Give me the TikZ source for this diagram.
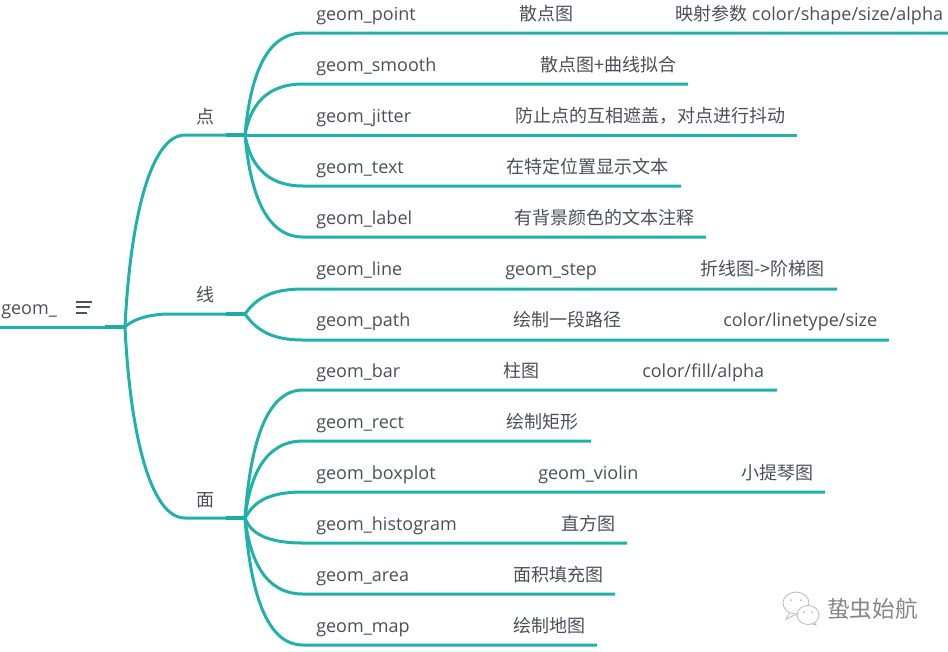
\documentclass[tikz,border=0pt]{standalone}
\usepackage{fontspec}
\setmainfont{Open Sans}
\newfontfamily\cjk{Noto Sans CJK SC}
\definecolor{branchteal}{HTML}{20B2AA}
\definecolor{labelgrey}{HTML}{4A4F59}
\begin{document}
\begin{tikzpicture}[
  x=0.75pt, y=-0.75pt,
  branch/.style={draw=branchteal, line width=2.25pt},
  stub/.style={draw=branchteal!96!black, line width=2.8pt},
  leaf/.style={anchor=base west, inner sep=0pt, text=labelgrey, font=\fontsize{13.5}{16}\selectfont},
  note/.style={anchor=base west, inner sep=0pt, text=labelgrey, font=\fontsize{13.5}{16}\selectfont\cjk},
  topic/.style={inner sep=0pt, text=labelgrey, font=\fontsize{13.5}{16}\selectfont\cjk},
  mark line/.style={draw=labelgrey, line width=0.9pt},
  bubble/.style={draw=gray!55, line width=0.6pt, fill=white},
]
  \useasboundingbox (0,0) rectangle (948,651);

  \coordinate (rootin) at (0,327);
  \coordinate (stem) at (105,327);
  \coordinate (hub) at (125,327);
  \coordinate (dianin) at (185,135);
  \coordinate (dianstub) at (226,135);
  \coordinate (dianout) at (245,135);
  \coordinate (xianin) at (170,314);
  \coordinate (xianstub) at (226,314);
  \coordinate (xianout) at (245,314);
  \coordinate (mianin) at (185,518);
  \coordinate (mianstub) at (226,518);
  \coordinate (mianout) at (245,518);

  \node[leaf] (root) at (1,314) {geom\_};
  \coordinate (marka) at (76,302);
  \coordinate (markb) at (92,302);
  \coordinate (markc) at (76,307);
  \coordinate (markd) at (90,307);
  \coordinate (marke) at (76,313);
  \coordinate (markf) at (87,313);
  \draw[mark line] (marka) -- (markb);
  \draw[mark line] (markc) -- (markd);
  \draw[mark line] (marke) -- (markf);

  \node[topic] (dian) at (205,116.5) {点};
  \node[topic] (xian) at (205,295) {线};
  \node[topic] (mian) at (205,500) {面};

  % first level
  \draw[branch] (rootin) -- (hub);
  \draw[stub] (stem) -- (hub);
  \draw[branch] (hub) .. controls +(5,-105) and +(-35,0) .. (dianin) -- (dianout);
  \draw[branch] (hub) .. controls +(8,-8) and +(-20,0) .. (xianin) -- (xianout);
  \draw[branch] (hub) .. controls +(5,105) and +(-35,0) .. (mianin) -- (mianout);
  \draw[stub] (dianstub) -- (dianout);
  \draw[stub] (xianstub) -- (xianout);
  \draw[stub] (mianstub) -- (mianout);

  % rows of the first group
  \coordinate (pointa) at (303,33);
  \coordinate (pointb) at (948,33);
  \coordinate (smootha) at (303,84);
  \coordinate (smoothb) at (688,84);
  \coordinate (jittera) at (303,135);
  \coordinate (jitterb) at (797,135);
  \coordinate (texta) at (303,186);
  \coordinate (textb) at (681,186);
  \coordinate (labela) at (303,237);
  \coordinate (labelb) at (706,237);
  \draw[branch] (dianout) .. controls +(5,-56) and +(-38,0) .. (pointa) -- (pointb);
  \draw[branch] (dianout) .. controls +(5,-28) and +(-38,0) .. (smootha) -- (smoothb);
  \draw[branch] (dianout) -- (jittera) -- (jitterb);
  \draw[branch] (dianout) .. controls +(5,28) and +(-38,0) .. (texta) -- (textb);
  \draw[branch] (dianout) .. controls +(5,56) and +(-38,0) .. (labela) -- (labelb);

  \node[leaf] (point) at (316,20) {geom\_point};
  \node[note] (pointnote) at (519,20) {散点图};
  \node[leaf] (pointmap) at (675,20) {{\cjk 映射参数} color/shape/size/alpha};
  \node[leaf] (smooth) at (316,71) {geom\_smooth};
  \node[note] (smoothnote) at (540,71) {散点图+曲线拟合};
  \node[leaf] (jitter) at (316,122) {geom\_jitter};
  \node[note] (jitternote) at (515,122) {防止点的互相遮盖，对点进行抖动};
  \node[leaf] (text) at (316,173) {geom\_text};
  \node[note] (textnote) at (506,173) {在特定位置显示文本};
  \node[leaf] (label) at (316,224) {geom\_label};
  \node[note] (labelnote) at (514,224) {有背景颜色的文本注释};

  % rows of the second group
  \coordinate (linea) at (303,289);
  \coordinate (lineb) at (837,289);
  \coordinate (patha) at (303,340);
  \coordinate (pathb) at (889,340);
  \draw[branch] (xianout) .. controls +(12,-17) and +(-30,0) .. (linea) -- (lineb);
  \draw[branch] (xianout) .. controls +(12,17) and +(-30,0) .. (patha) -- (pathb);

  \node[leaf] (line) at (316,275) {geom\_line};
  \node[leaf] (step) at (505,275) {geom\_step};
  \node[note] (stepnote) at (700,275) {折线图->阶梯图};
  \node[leaf] (path) at (316,326) {geom\_path};
  \node[note] (pathnote) at (513,326) {绘制一段路径};
  \node[leaf] (pathmap) at (723,326) {color/linetype/size};

  % rows of the third group
  \coordinate (bara) at (303,390);
  \coordinate (barb) at (777,390);
  \coordinate (recta) at (303,441);
  \coordinate (rectb) at (591,441);
  \coordinate (boxa) at (303,492);
  \coordinate (boxb) at (825,492);
  \coordinate (hista) at (303,543);
  \coordinate (histb) at (627,543);
  \coordinate (areaa) at (303,594);
  \coordinate (areab) at (615,594);
  \coordinate (mapa) at (303,645);
  \coordinate (mapb) at (597,645);
  \draw[branch] (mianout) .. controls +(5,-70) and +(-38,0) .. (bara) -- (barb);
  \draw[branch] (mianout) .. controls +(5,-42) and +(-38,0) .. (recta) -- (rectb);
  \draw[branch] (mianout) .. controls +(8,-14) and +(-38,0) .. (boxa) -- (boxb);
  \draw[branch] (mianout) .. controls +(5,14) and +(-38,0) .. (hista) -- (histb);
  \draw[branch] (mianout) .. controls +(5,42) and +(-38,0) .. (areaa) -- (areab);
  \draw[branch] (mianout) .. controls +(5,70) and +(-38,0) .. (mapa) -- (mapb);

  \node[leaf] (bar) at (316,377) {geom\_bar};
  \node[note] (barnote) at (503,377) {柱图};
  \node[leaf] (barmap) at (642,377) {color/fill/alpha};
  \node[leaf] (rect) at (316,428) {geom\_rect};
  \node[note] (rectnote) at (506,428) {绘制矩形};
  \node[leaf] (boxplot) at (316,479) {geom\_boxplot};
  \node[leaf] (violin) at (538,479) {geom\_violin};
  \node[note] (violinnote) at (741,479) {小提琴图};
  \node[leaf] (histogram) at (316,530) {geom\_histogram};
  \node[note] (histnote) at (561,530) {直方图};
  \node[leaf] (area) at (316,581) {geom\_area};
  \node[note] (areanote) at (513,581) {面积填充图};
  \node[leaf] (map) at (316,632) {geom\_map};
  \node[note] (mapnote) at (513,632) {绘制地图};

  % watermark
  \draw[bubble] (790,612) -- (786,619) -- (797,614) -- cycle;
  \draw[bubble] (796,603) ellipse (13 and 11);
  \fill[gray!55] (791,600) circle (1) (801,600) circle (1);
  \draw[bubble] (814,622) -- (816,625) -- (808,623) -- cycle;
  \draw[bubble] (808,615) ellipse (11 and 9.5);
  \fill[gray!55] (804,612) circle (1) (812,612) circle (1);
  \node[anchor=base west, inner sep=0pt, text=gray!95, font=\fontsize{17}{20}\selectfont\cjk] (mark) at (827,617) {蛰虫始航};
\end{tikzpicture}
\end{document}
